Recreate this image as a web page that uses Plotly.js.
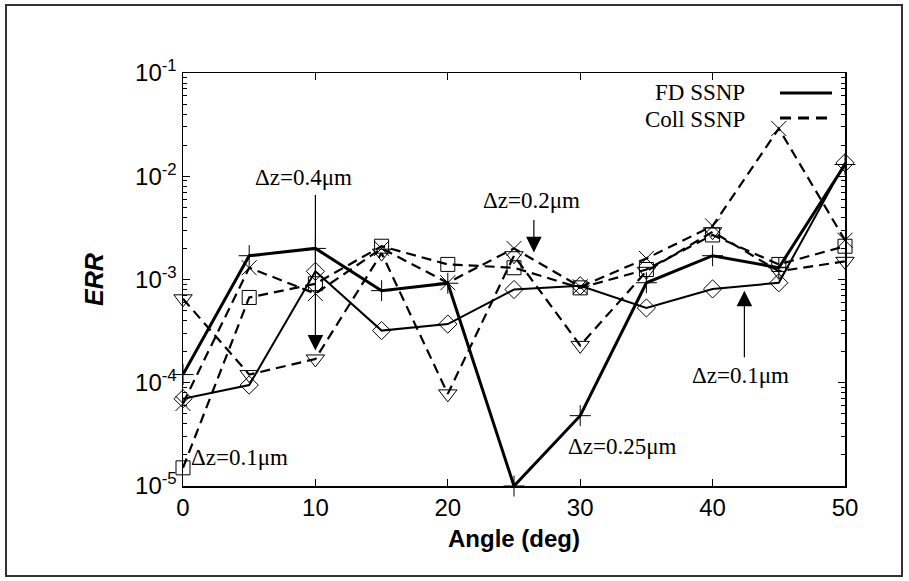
<!DOCTYPE html>
<html>
<head>
<meta charset="utf-8">
<script src="https://cdn.plot.ly/plotly-3.0.1.min.js"></script>
<style>
  html, body { margin: 0; padding: 0; background: #fff; }
  #chart { width: 909px; height: 581px; }
</style>
</head>
<body>
<div id="chart"></div>
<script>
// ---- data ----
const angles = [0, 5, 10, 15, 20, 25, 30, 35, 40, 45, 50];
// FD SSNP (solid)
const fdDz025 = [1.2e-4, 1.7e-3, 2.0e-3, 7.8e-4, 9.2e-4, 1.0e-5, 4.8e-5, 9.3e-4, 1.7e-3, 1.3e-3, 1.3e-2];
const fdDz01  = [7.0e-5, 9.5e-5, 1.2e-3, 3.2e-4, 3.7e-4, 8.0e-4, 8.7e-4, 5.3e-4, 8.1e-4, 9.3e-4, 1.35e-2];
// Coll SSNP (dashed)
const collDz02 = [6.3e-5, 1.3e-3, 7.3e-4, 2.0e-3, 9.3e-4, 2.0e-3, 8.5e-4, 1.6e-3, 3.3e-3, 2.9e-2, 2.4e-3];
const collDz01 = [1.5e-5, 6.7e-4, 9.1e-4, 2.1e-3, 1.4e-3, 1.3e-3, 8.3e-4, 1.25e-3, 2.7e-3, 1.4e-3, 2.1e-3];
const collDz04 = [6.5e-4, 1.2e-4, 1.7e-4, 1.8e-3, 7.8e-5, 1.7e-3, 2.3e-4, 1.2e-3, 2.9e-3, 1.2e-3, 1.5e-3];

const yTickVals = [1e-5, 1e-4, 1e-3, 1e-2, 1e-1];
const yTickText = ['10<sup>-5</sup>', '10<sup>-4</sup>', '10<sup>-3</sup>', '10<sup>-2</sup>', '10<sup>-1</sup>'];
const legendNames = ['FD SSNP', 'Coll SSNP'];

// annotation labels
const labels = [
  {text: 'Δz=0.4μm',  x: 9.1,  y: 0.00978},
  {text: 'Δz=0.2μm',  x: 26.3, y: 0.00585},
  {text: 'Δz=0.1μm',  x: 42.1, y: 0.000117},
  {text: 'Δz=0.25μm', x: 33.2, y: 0.0000239},
  {text: 'Δz=0.1μm',  x: 4.3,  y: 0.0000187}
];
const arrows = [
  {x: 10,   y: 2.05e-4, ay: -157},
  {x: 26.5, y: 1.83e-3, ay: -34},
  {x: 42.4, y: 7.8e-4,  ay: 68}
];

// minor tick values for log axis (2..9 x each decade)
const minorVals = [];
for (let d = -5; d < -1; d++) {
  for (let m = 2; m <= 9; m++) minorVals.push(m * Math.pow(10, d));
}

const serif = 'Liberation Serif, Times New Roman, serif';
const sans = 'Liberation Sans, Arial, sans-serif';

function tr(y, symbol, dash, width, msize) {
  return {
    x: angles, y: y, type: 'scatter', mode: 'lines+markers',
    line: {color: '#000', width: width, dash: dash},
    marker: {symbol: symbol, size: msize, color: '#000', line: {color: '#000', width: 1}},
    cliponaxis: false, showlegend: false
  };
}

const data = [
  tr(collDz02, 'x-thin-open', '10px,6px', 2.2, 15),
  tr(collDz01, 'square-open', '10px,6px', 2.2, 14),
  tr(collDz04, 'triangle-down-open', '10px,6px', 2.2, 16),
  tr(fdDz01, 'diamond-open', 'solid', 2, 14),
  tr(fdDz025, 'cross-thin-open', 'solid', 3, 15)
];

// plot area in pixels: x 183..845, y 73..486
const L = 183, R = 845, T = 73, B = 486;
const W = R - L, H = B - T;
const px = v => (v - L) / W;
const py = v => (B - v) / H;

const annotations = [];
labels.forEach(l => annotations.push({
  x: l.x, y: Math.log10(l.y), xref: 'x', yref: 'y', text: l.text, showarrow: false,
  font: {family: serif, size: 23, color: '#000'}, xanchor: 'center', yanchor: 'middle'
}));
arrows.forEach(a => annotations.push({
  x: a.x, y: Math.log10(a.y), xref: 'x', yref: 'y', text: '', showarrow: true,
  ax: 0, ay: a.ay, arrowhead: 2, arrowsize: 2.6, arrowwidth: 1.2,
  arrowcolor: '#000', standoff: 0
}));
annotations.push({
  x: px(747), y: py(93), xref: 'paper', yref: 'paper', text: legendNames[0], showarrow: false,
  xanchor: 'right', yanchor: 'middle', font: {family: serif, size: 23, color: '#000'}
});
annotations.push({
  x: px(747), y: py(119), xref: 'paper', yref: 'paper', text: legendNames[1], showarrow: false,
  xanchor: 'right', yanchor: 'middle', font: {family: serif, size: 23, color: '#000'}
});

const shapes = [
  {type: 'line', xref: 'paper', yref: 'paper', x0: px(780), x1: px(832), y0: py(93), y1: py(93),
   line: {color: '#000', width: 3}},
  {type: 'line', xref: 'paper', yref: 'paper', x0: px(780), x1: px(832), y0: py(118), y1: py(118),
   line: {color: '#000', width: 3, dash: '11px,7px'}},
  {type: 'rect', xref: 'paper', yref: 'paper', x0: px(6), x1: px(902), y0: py(576), y1: py(5),
   line: {color: '#333', width: 2}}
];

const layout = {
  width: 909, height: 581,
  margin: {l: L, r: 909 - R, t: T, b: 581 - B, pad: 0},
  paper_bgcolor: '#fff', plot_bgcolor: '#fff',
  font: {family: sans, color: '#000'},
  xaxis: {
    range: [0, 50], dtick: 10, tick0: 0, ticks: 'inside', ticklen: 7, tickwidth: 1,
    tickcolor: '#000', showline: true, linecolor: '#000', linewidth: 1.5, mirror: 'ticks',
    showgrid: false, zeroline: false,
    tickfont: {family: sans, size: 24, color: '#000'},
    title: {text: '<b>Angle (deg)</b>', font: {family: sans, size: 24, color: '#000'}, standoff: 10}
  },
  yaxis: {
    type: 'log', range: [-5, -1], tickmode: 'array', tickvals: yTickVals, ticktext: yTickText,
    ticks: 'inside', ticklen: 7, tickwidth: 1, tickcolor: '#000',
    showline: true, linecolor: '#000', linewidth: 1.5, mirror: 'ticks',
    showgrid: false, zeroline: false,
    minor: {tickmode: 'array', tickvals: minorVals, ticks: 'inside', ticklen: 4, tickcolor: '#000', showgrid: false},
    tickfont: {family: sans, size: 24, color: '#000'},
    title: {text: '<b><i>ERR</i></b>', font: {family: sans, size: 25, color: '#000'}, standoff: 24}
  },
  annotations: annotations,
  shapes: shapes
};

Plotly.newPlot('chart', data, layout, {displayModeBar: false, staticPlot: true});
</script>
</body>
</html>
